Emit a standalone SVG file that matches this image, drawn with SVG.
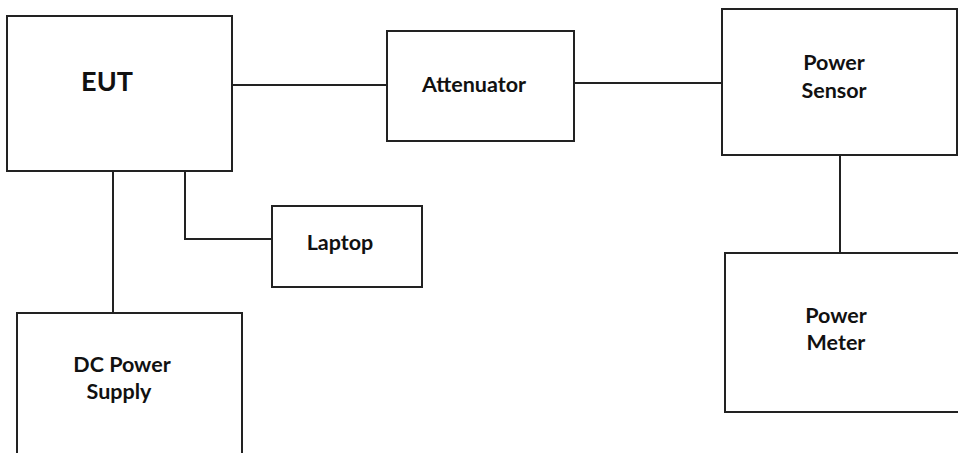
<svg xmlns="http://www.w3.org/2000/svg" width="958" height="453" viewBox="0 0 958 453">
<style>
.box{fill:#fff;stroke:#222;stroke-width:2}
.wire{fill:none;stroke:#222;stroke-width:2}
.lbl{font-family:Lato,"Liberation Sans",sans-serif;font-weight:bold;font-size:21.5px;fill:#111;text-anchor:middle}
.big{font-size:27px}
</style>
<rect width="958" height="453" fill="#fff"/>
<g id="connectors">
<path class="wire" d="M232 85H387"/>
<path class="wire" d="M574 83H722"/>
<path class="wire" d="M840 155V253"/>
<path class="wire" d="M113 171V313"/>
<path class="wire" d="M185 171V239H272"/>
</g>
<g id="eut">
<rect class="box" x="7" y="16" width="225" height="155"/>
<text class="lbl big" x="107" y="91">EUT</text>
</g>
<g id="attenuator">
<rect class="box" x="387" y="31" width="187" height="110"/>
<text class="lbl" x="474" y="92">Attenuator</text>
</g>
<g id="power-sensor">
<rect class="box" x="722" y="9" width="235" height="146"/>
<text class="lbl" x="834" y="70">Power</text>
<text class="lbl" x="834" y="98">Sensor</text>
</g>
<g id="laptop">
<rect class="box" x="272" y="206" width="150" height="81"/>
<text class="lbl" x="340" y="250">Laptop</text>
</g>
<g id="dc-power-supply">
<rect class="box" x="17" y="313" width="225" height="150"/>
<text class="lbl" x="122" y="372">DC Power</text>
<text class="lbl" x="119" y="399">Supply</text>
</g>
<g id="power-meter">
<rect class="box" x="725" y="253" width="240" height="159"/>
<text class="lbl" x="836" y="323">Power</text>
<text class="lbl" x="836" y="350">Meter</text>
</g>
</svg>
